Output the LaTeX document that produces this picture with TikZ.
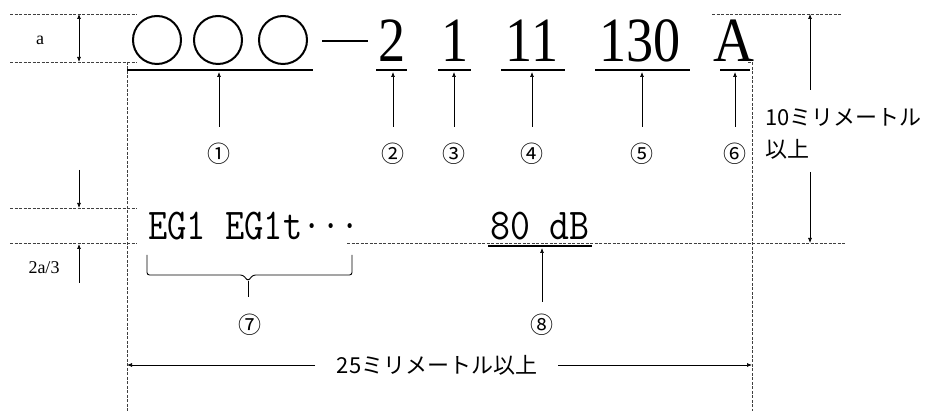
\documentclass[tikz,border=0pt]{standalone}
\usepackage{graphicx}
\usepackage{fontspec}
\setmainfont{Liberation Serif}
\newfontfamily\jp{Noto Sans CJK JP}
\usetikzlibrary{arrows.meta}
\begin{document}
\begin{tikzpicture}[x=1pt,y=-1pt,
  guide/.style={line width=0.7pt, black!75, dash pattern=on 3pt off 1.5pt},
  arr/.style={-{Latex[length=5pt,width=4pt]}, line width=0.7pt},
  dimarr/.style={{Latex[length=5pt,width=4pt]}-{Latex[length=5pt,width=4pt]}, line width=0.7pt},
  uline/.style={line width=1.8pt},
  big/.style={inner sep=0pt, anchor=base, font=\fontsize{63}{63}\selectfont},
  monotext/.style={inner sep=0pt, font=\fontsize{44}{44}\selectfont\ttfamily},
  circ/.style={circle, draw, line width=2pt, minimum size=48pt, inner sep=0pt},
  num/.style={inner sep=0pt, font=\jp\fontsize{23}{23}\selectfont},
  jptext/.style={inner sep=0pt, font=\jp\fontsize{22}{22}\selectfont},
  small/.style={inner sep=0pt, font=\fontsize{18}{18}\selectfont}
]
\useasboundingbox (0,0) rectangle (932,411);

% guide lines
\draw[guide] (10,14) -- (137,14);
\draw[guide] (10,62) -- (137,62);
\draw[guide] (712,14) -- (842,14);
\draw[guide] (10,208) -- (137,208);
\draw[guide] (10,243) -- (137,243);
\draw[guide] (347,243) -- (845,243);
\draw[guide] (127,62) -- (127,411);
\draw[guide] (748,62) -- (752,62) -- (752,411);

% left dimension a
\coordinate (aT) at (79,14);
\coordinate (aB) at (79,62);
\draw[dimarr] (aT) -- (aB);
\node[small] (la) at (40,40) {a};

% left dimension 2a/3
\coordinate (dA) at (79,170);
\coordinate (dB) at (79,208);
\draw[arr] (dA) -- (dB);
\coordinate (eA) at (79,283);
\coordinate (eB) at (79,244);
\draw[arr] (eA) -- (eB);
\node[small] (l23) at (44,268) {2a/3};

% right dimension 10mm
\coordinate (rA) at (810,90);
\coordinate (rB) at (810,14);
\draw[arr] (rA) -- (rB);
\coordinate (sA) at (810,172);
\coordinate (sB) at (810,243);
\draw[arr] (sA) -- (sB);
\node[jptext, anchor=west] (t10) at (765,117) {10ミリメートル};
\node[jptext, anchor=west] (tijo) at (765,149) {以上};

% circles
\node[circ] (o1) at (157,40) {};
\node[circ] (o2) at (218,40) {};
\node[circ] (o3) at (283,40) {};
\coordinate (dsA) at (322,41);
\coordinate (dsB) at (368,41);
\draw[line width=1.4pt] (dsA) -- (dsB);

% numbers
\node[big] (n2) at (392,62) {\scalebox{0.86}[1]{2}};
\node[big] (n3) at (455,62) {\scalebox{0.86}[1]{1}};
\node[big] (n4) at (532,62) {\scalebox{0.86}[1]{11}};
\node[big] (n5) at (640,62) {\scalebox{0.86}[1]{130}};
\node[big] (n6) at (734,62) {\scalebox{0.9}[1]{A}};

% underlines
\draw[uline] (127,70) coordinate (u1a) -- (313,70) coordinate (u1b);
\draw[uline] (376,70) coordinate (u2a) -- (407,70) coordinate (u2b);
\draw[uline] (438,70) coordinate (u3a) -- (471,70) coordinate (u3b);
\draw[uline] (501,70) coordinate (u4a) -- (565,70) coordinate (u4b);
\draw[uline] (595,70) coordinate (u5a) -- (690,70) coordinate (u5b);
\draw[uline] (720,70) coordinate (u6a) -- (750,70) coordinate (u6b);

% circled labels
\node[num] (c1) at (219,154) {①};
\node[num] (c2) at (393,154) {②};
\node[num] (c3) at (454,154) {③};
\node[num] (c4) at (532,154) {④};
\node[num] (c5) at (642,154) {⑤};
\node[num] (c6) at (735,154) {⑥};

\foreach \i/\x in {1/219,2/393,3/454,4/532,5/642,6/735}{
  \coordinate (p\i) at (\x,127);
  \coordinate (q\i) at (\x,72);
  \draw[arr] (p\i) -- (q\i);
}

% second line
\node[monotext, anchor=base west] (eg) at (148,240) {\scalebox{0.85}[1]{EG1 EG1t···}};
\node[monotext, anchor=base] (db) at (540,240) {\scalebox{0.88}[1]{80 dB}};
\draw[uline] (488,246) coordinate (u8a) -- (592,246) coordinate (u8b);
\coordinate (p8) at (542,302);
\coordinate (q8) at (542,248);
\draw[arr] (p8) -- (q8);
\node[num] (c8) at (542,325) {⑧};

% brace
\coordinate (bt) at (248,281);
\draw[line width=0.9pt, rounded corners=2.5pt] (147,255) -- (147,275) -- (243,275) -- (bt) -- (253,275) -- (352,275) -- (352,255);
\coordinate (bb) at (248,297);
\draw[line width=0.9pt] (bt) -- (bb);
\node[num] (c7) at (250,325) {⑦};

% bottom dimension
\node[jptext] (t25) at (437,365) {25ミリメートル以上};
\coordinate (wA) at (315,365);
\coordinate (wB) at (127,365);
\draw[arr] (wA) -- (wB);
\coordinate (xA) at (558,365);
\coordinate (xB) at (752,365);
\draw[arr] (xA) -- (xB);
\end{tikzpicture}
\end{document}
